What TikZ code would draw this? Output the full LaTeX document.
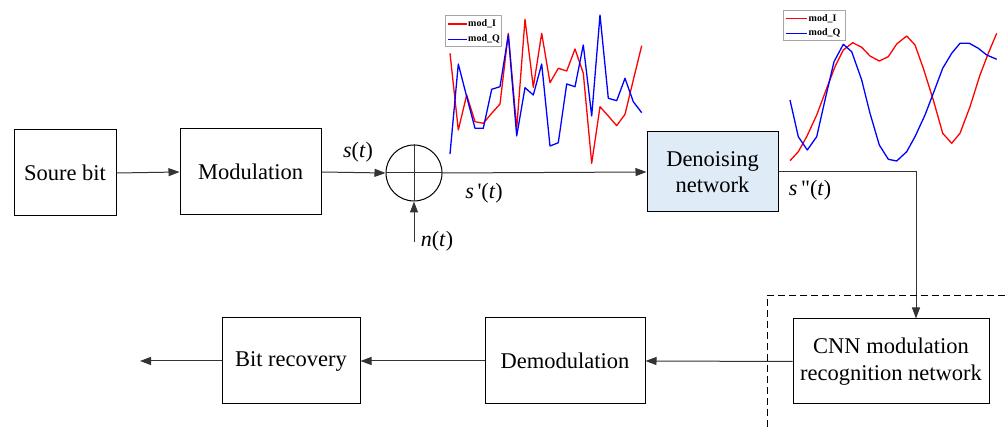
\documentclass[tikz,border=0pt]{standalone}
\usepackage{fontspec}
\setmainfont{Liberation Serif}
\newfontfamily\lblfont{Liberation Serif}
\usetikzlibrary{arrows.meta}
\definecolor{denoisefill}{HTML}{DFEBF7}
\definecolor{wire}{HTML}{333333}
\tikzset{
  block/.style={draw=black, line width=1pt, minimum height=86pt, align=center,
    font=\fontsize{22.5}{26.5}\selectfont, inner sep=0pt},
  conn/.style={draw=wire, line width=1pt, -{Triangle[length=11pt,width=8pt]}},
  plain/.style={draw=wire, line width=1pt},
  sig/.style={font=\fontsize{22}{25}\selectfont\lblfont},
  legend/.style={draw=gray!70, line width=0.8pt, fill=white},
  legtext/.style={font=\fontsize{10}{11}\selectfont\bfseries, anchor=west, inner sep=0pt},
  curveI/.style={red, line width=1.3pt, line join=round},
  curveQ/.style={blue, line width=1.3pt, line join=round},
}
\begin{document}
\begin{tikzpicture}[x=1pt, y=-1pt]
\useasboundingbox (0,0) rectangle (1005,427);

% processing blocks
\node[block, minimum width=102pt] (src) at (65,173) {Soure bit};
\node[block, minimum width=141pt] (mod) at (250.5,172) {Modulation};
\node[block, minimum width=131pt, minimum height=80pt, fill=denoisefill] (den) at (712.5,172) {Denoising\\network};
\node[block, minimum width=196pt, minimum height=85pt] (cnn) at (891,361.5) {CNN modulation\\recognition network};
\node[block, minimum width=160pt] (dem) at (565,361) {Demodulation};
\node[block, minimum width=138pt] (bit) at (291,361) {Bit recovery};

% adder
\node[draw=black, line width=1pt, circle, minimum size=56pt, inner sep=0pt] (sum) at (414,173) {};
\draw[plain] (sum.west) -- (sum.east);
\draw[plain] (sum.north) -- (sum.south);
\coordinate (noise) at (414,242);
\coordinate (sink) at (140,361);
\coordinate (corner) at (916,172);

% connectors
\draw[conn] (src.east) -- (mod.west);
\draw[conn] (mod.east) -- (sum.west);
\draw[conn] (noise) -- (sum.south);
\draw[conn] (sum.east) -- (den.west);
\draw[conn] (den.east) -- (corner) -- (corner |- cnn.north);
\draw[conn] (cnn.west) -- (dem.east);
\draw[conn] (dem.west) -- (bit.east);
\draw[conn] (bit.west) -- (sink);

% signal labels
\node[sig] (st) at (358,152) {\textit{s}(\textit{t})};
\node[sig] (spt) at (484,193) {\textit{s}\,'(\textit{t})};
\node[sig] (nt) at (437,241) {\textit{n}(\textit{t})};
\node[sig] (sppt) at (810,190) {\textit{s}\,"(\textit{t})};

% dashed frame of the recognition stage
\draw[dashed, line width=0.9pt, dash pattern=on 7pt off 4pt] (1005,295) -- (767,295) -- (767,427);

% noisy I/Q waveform
\draw[curveI] plot coordinates {(450,53.3) (458.3,130) (466.7,95) (475,121.7) (483.3,123.3) (491.7,113.3) (500,104) (508.3,33.3) (516.7,128.3) (525,19.3) (533.3,87.3) (541.7,33.3) (550,82.7) (558.3,68.3) (566.7,71) (575,49) (583.3,73.3) (591.7,163.3) (600,106.7) (608.3,116) (616.7,125.7) (625,114.3) (633.3,80) (641.7,45.7)};
\draw[curveQ] plot coordinates {(450,154) (458.3,64) (466.7,96.7) (475,128.3) (483.3,128.3) (491.7,89.3) (500,86.7) (508.3,35) (516.7,136) (525,87.7) (533.3,95) (541.7,64) (550,146) (558.3,142.7) (566.7,84) (575,86.7) (583.3,45) (591.7,116) (600,15) (608.3,98.3) (616.7,100.7) (625,78.3) (633.3,101.7) (641.7,112.7)};
\draw[legend] (445.7,15) rectangle (501.5,46.7);
\draw[red, line width=1.3pt] (447.5,24) -- (466.5,24);
\draw[blue, line width=1.3pt] (447.5,39.3) -- (466.5,39.3);
\node[legtext] (l1i) at (468,24) {mod\_I};
\node[legtext] (l1q) at (468,39.3) {mod\_Q};

% denoised I/Q waveform
\draw[curveI] plot coordinates {(790,160.7) (798.3,151.7) (806.7,136.7) (816.7,115) (826.7,88.3) (835,66.7) (843.3,50) (852.7,42.7) (861.7,47.3) (870,56) (879.3,61) (888.3,56.7) (896.7,44) (906.7,36) (915,45) (923.3,68.3) (933.3,100) (942.7,133.3) (951.7,143.3) (960,133.3) (970,106.7) (980,75) (988.3,53.3) (996.7,33.3)};
\draw[curveQ] plot coordinates {(790,100) (798.3,136.7) (807.3,150) (816.7,136.7) (825,100) (834,61.7) (843.3,44.3) (851.7,51.7) (861.7,80) (870,113.3) (879.3,145) (888.3,159.3) (896.7,161) (906.7,151.7) (915,136.7) (925,115) (933.3,93.3) (942.7,68.3) (951.7,53.3) (960,43.3) (969.3,43.3) (978.3,48.3) (986.7,55) (996.7,59.3)};
\draw[legend] (783.3,10) rectangle (845.5,40.7);
\draw[red, line width=1.3pt] (786,18.3) -- (806.7,18.3);
\draw[blue, line width=1.3pt] (786,33.3) -- (806.7,33.3);
\node[legtext] (l2i) at (808.5,18.3) {mod\_I};
\node[legtext] (l2q) at (808.5,33.3) {mod\_Q};
\end{tikzpicture}
\end{document}
